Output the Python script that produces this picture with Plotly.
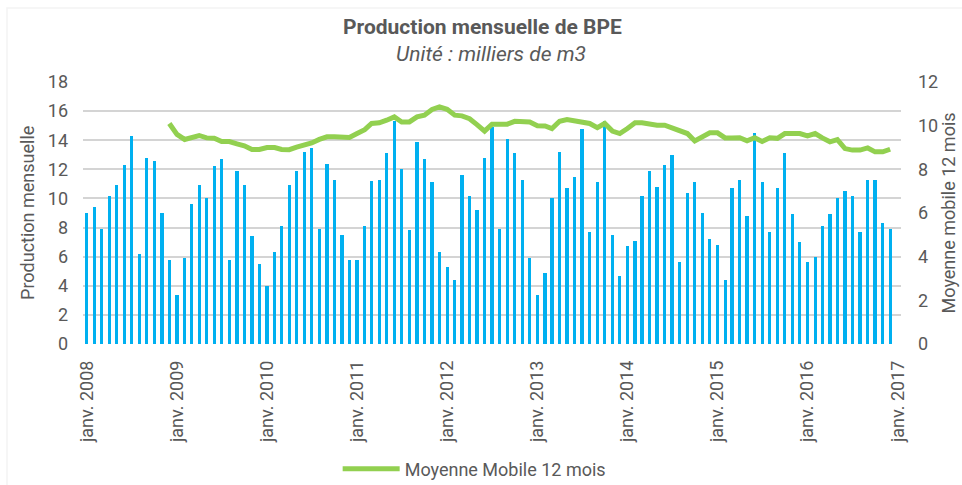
import plotly.graph_objects as go
import pandas as pd

# ---- data ----
months = pd.date_range("2008-01-01", "2016-12-01", freq="MS")
production = [
    9.0, 9.4, 7.9, 10.2, 10.9, 12.3, 14.3, 6.2, 12.8, 12.6, 9.0, 5.8,    # 2008
    3.4, 5.9, 9.6, 10.9, 10.0, 12.2, 12.7, 5.8, 11.9, 10.9, 7.4, 5.5,    # 2009
    4.0, 6.3, 8.1, 10.9, 11.9, 13.2, 13.5, 7.9, 12.4, 11.3, 7.5, 5.8,    # 2010
    5.8, 8.1, 11.2, 11.3, 13.1, 15.3, 12.0, 7.8, 13.9, 12.7, 11.1, 6.3,  # 2011
    5.3, 4.4, 11.6, 10.2, 9.2, 12.8, 14.9, 7.9, 14.1, 13.1, 11.3, 5.9,   # 2012
    3.4, 4.9, 10.0, 13.2, 10.7, 11.5, 14.8, 7.7, 11.1, 15.3, 7.5, 4.7,   # 2013
    6.7, 7.1, 10.2, 11.9, 10.8, 12.3, 13.0, 5.6, 10.4, 11.1, 9.0, 7.2,   # 2014
    6.8, 4.4, 10.7, 11.3, 8.8, 14.5, 11.1, 7.7, 10.7, 13.1, 8.9, 7.0,    # 2015
    5.6, 6.0, 8.1, 8.9, 10.0, 10.5, 10.2, 7.7, 11.3, 11.3, 8.3, 7.9,     # 2016
]

ma_months = pd.date_range("2008-12-01", "2016-12-01", freq="MS")
moyenne_mobile = [
    10.1,                                                                     # déc. 2008
    9.6, 9.37, 9.44, 9.55, 9.44, 9.42, 9.27, 9.27, 9.17, 9.08, 8.91, 8.91,    # 2009
    9.0, 9.0, 8.91, 8.9, 9.02, 9.12, 9.21, 9.37, 9.49, 9.49, 9.49, 9.46,      # 2010
    9.64, 9.82, 10.1, 10.13, 10.25, 10.4, 10.17, 10.17, 10.4, 10.48, 10.74, 10.86,  # 2011
    10.75, 10.48, 10.45, 10.32, 10.05, 9.75, 10.07, 10.07, 10.07, 10.2, 10.2, 10.17,  # 2012
    10.0, 9.99, 9.87, 10.2, 10.28, 10.2, 10.17, 10.1, 9.91, 10.1, 9.75, 9.64,  # 2013
    9.87, 10.13, 10.13, 10.05, 10.02, 10.02, 9.91, 9.75, 9.64, 9.30, 9.52, 9.67,  # 2014
    9.67, 9.44, 9.44, 9.45, 9.31, 9.45, 9.28, 9.45, 9.42, 9.64, 9.64, 9.64,   # 2015
    9.53, 9.64, 9.44, 9.26, 9.36, 8.95, 8.88, 8.88, 8.98, 8.80, 8.80, 8.92,   # 2016
]

tick_dates = [f"{y}-01-01" for y in range(2008, 2018)]
tick_labels = [f"janv. {y}" for y in range(2008, 2018)]
y_ticks = list(range(0, 20, 2))
x_range = ["2007-12-17", "2017-01-14"]

title_text = "Production mensuelle de BPE"
subtitle_text = "Unité : milliers de m3"
left_title = "Production mensuelle"
right_title = "Moyenne mobile 12 mois"
legend_label = "Moyenne Mobile 12 mois"

# ---- styles ----
FONT = "Roboto"
GREY = "#595959"
GRID = "#d4d4d4"
BLUE = "#00b0f0"
GREEN = "#92d050"
DAY_MS = 86400000

fig = go.Figure()
fig.add_trace(go.Bar(
    x=months, y=production, name=left_title,
    marker=dict(color=BLUE, line=dict(width=0)),
    width=[13 * DAY_MS] * len(production),
    showlegend=False, yaxis="y",
))
fig.add_trace(go.Scatter(
    x=ma_months, y=moyenne_mobile, name=legend_label,
    mode="lines", line=dict(color=GREEN, width=5),
    yaxis="y2",
))

fig.update_layout(
    template="simple_white",
    width=962, height=485,
    margin=dict(l=83, r=61, t=82, b=141, autoexpand=False),
    paper_bgcolor="white", plot_bgcolor="white",
    font=dict(family=FONT, color=GREY, size=18),
    xaxis=dict(
        type="date", automargin=False,
        range=x_range,
        tickvals=tick_dates, ticktext=tick_labels,
        tickangle=-90, tickfont=dict(size=18, color=GREY),
        showgrid=False, zeroline=False, showline=False,
        ticks="", ticklabelstandoff=12,
    ),
    yaxis=dict(
        range=[0, 18], tickvals=y_ticks, automargin=False,
        showgrid=True, gridcolor=GRID, gridwidth=2,
        zeroline=False, showline=False,
        tickfont=dict(size=18, color=GREY),
        ticks="", ticklabelstandoff=14,
    ),
    yaxis2=dict(
        range=[0, 12], dtick=2, automargin=False,
        overlaying="y", side="right",
        showgrid=False, zeroline=False, showline=False,
        tickfont=dict(size=18, color=GREY),
        ticks="", ticklabelstandoff=16,
    ),
    showlegend=True,
    legend=dict(
        orientation="h", xref="container", yref="container",
        x=0.351, y=0.033,
        xanchor="left", yanchor="middle",
        itemwidth=57,
        font=dict(size=18, color=GREY),
        bgcolor="rgba(0,0,0,0)",
    ),
    bargap=0,
    annotations=[
        dict(text=f"<b>{title_text}</b>", xref="paper", yref="paper",
             x=0.488, y=1.21, xanchor="center", yanchor="middle",
             showarrow=False, font=dict(size=21, color=GREY, family=FONT)),
        dict(text=f"<i>{subtitle_text}</i>", xref="paper", yref="paper",
             x=0.499, y=1.108, xanchor="center", yanchor="middle",
             showarrow=False, font=dict(size=21, color=GREY, family=FONT)),
        dict(text=left_title, xref="paper", yref="paper",
             x=-0.0685, y=0.5, xanchor="center", yanchor="middle",
             textangle=-90, showarrow=False,
             font=dict(size=18, color=GREY, family=FONT)),
        dict(text=right_title, xref="paper", yref="paper",
             x=1.058, y=0.5, xanchor="center", yanchor="middle",
             textangle=-90, showarrow=False,
             font=dict(size=18, color=GREY, family=FONT)),
    ],
    shapes=[
        dict(type="rect", xref="paper", yref="paper",
             x0=-0.0929, x1=1.3, y0=-1.0, y1=1.282,
             line=dict(color="#d9d9d9", width=1.5), fillcolor="rgba(0,0,0,0)",
             layer="below"),
    ],
)

fig.write_html("out.html", config={"displayModeBar": False},
               post_script="document.body.style.margin='0px';")
